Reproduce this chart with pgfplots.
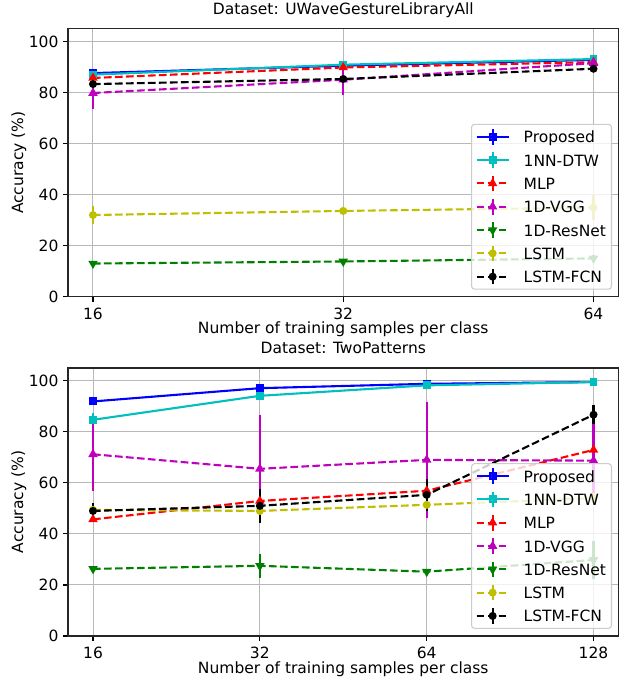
\documentclass[border=0pt]{standalone}
\usepackage{pgfplots}
\pgfplotsset{compat=1.18}
\usepackage{fontspec}
\setmainfont{DejaVu Sans}
\definecolor{mpblue}{rgb}{0,0,1}
\definecolor{mpcyan}{rgb}{0,0.75,0.75}
\definecolor{mpred}{rgb}{1,0,0}
\definecolor{mpmag}{rgb}{0.75,0,0.75}
\definecolor{mpgreen}{rgb}{0,0.5,0}
\definecolor{mpyel}{rgb}{0.75,0.75,0}
\definecolor{gridgray}{HTML}{B8B8B8}
\newcommand{\fs}{\fontsize{15.5}{17}\selectfont}
\pgfkeys{/pgf/number format/assume math mode=true}
\pgfplotsset{
  errleg/.style={legend image code/.code={
    \draw[mark repeat=2,mark phase=2] plot coordinates {(0pt,0pt) (16pt,0pt) (32pt,0pt)};
    \draw[solid,mark=none,overlay] (16pt,-7.8pt) -- (16pt,7.8pt);
  }},
  ser/.style={line width=2.1pt, mark options={solid}, mark size=2.9pt, errleg,
    error bars/y dir=both, error bars/y explicit, error bars/error mark=none,
    error bars/error bar style={line width=2.1pt, solid}},
  sq/.style={ser, mark=square*},
  tu/.style={ser, mark=triangle*, mark size=3.4pt},
  td/.style={ser, mark=triangle*, mark size=3.4pt, mark options={solid, rotate=180}},
  ci/.style={ser, mark=*, mark size=2.9pt},
  dsh/.style={dash pattern=on 7.7pt off 3.3pt},
  every axis/.append style={
    scale only axis, width=550.5pt, height=268pt,
    xmode=log, log basis x=2,
    ymin=0, ymax=105, ytick={0,20,40,60,80,100},
    grid=major, major grid style={color=gridgray, line width=1.0pt},
    axis line style={black!85, line width=1.1pt},
    tick style={black, line width=1.1pt}, tick align=outside, major tick length=4.9pt,
    xtick pos=left, ytick pos=left,
    ticklabel style={font=\fs},
    yticklabel style={anchor=east, inner sep=0pt, xshift=-4.5pt},
    xticklabel style={anchor=base, inner sep=0pt, yshift=-17.8pt},
    title style={font=\fs, at={(axis description cs:0.5,1)}, anchor=base, inner sep=0pt, yshift=8pt},
    xlabel style={font=\fs, at={(axis description cs:0.5,0)}, anchor=base, inner sep=0pt, yshift=-37pt},
    ylabel style={font=\fs, at={(axis description cs:0,0.5)}, anchor=base, inner sep=0pt, yshift=45pt},
    xlabel={Number of training samples per class},
    ylabel={Accuracy (\%)},
    legend cell align=left,
    legend style={font=\fs, at={(axis description cs:1,0)}, anchor=south east,
      xshift=-6.5pt, yshift=7pt, draw=black!20, line width=1.1pt, rounded corners=3pt,
      fill=white, fill opacity=0.8, draw opacity=1, text opacity=1,
      inner xsep=4pt, inner ysep=4pt, row sep=6.3pt, column sep=12.5pt,
      nodes={inner sep=1.5pt, text height=13pt, text depth=1pt}},
  }
}
\begin{document}
\begin{tikzpicture}[x=1pt,y=1pt]
\useasboundingbox (0,0) rectangle (619,677);
% ---------------- Top
\begin{axis}[at={(68pt,380.3pt)}, anchor=south west,
  xmin=14.93, xmax=68.59, xtick={16,32,64}, xticklabels={16,32,64},
  title={Dataset: UWaveGestureLibraryAll}]
\addplot[sq, color=mpblue] coordinates {(16,87.6) +- (0,1.2) (32,90.5) +- (0,0.8) (64,92.8) +- (0,0.5)};
\addplot[sq, color=mpcyan] coordinates {(16,87.0) +- (0,0.6) (32,90.9) +- (0,1.5) (64,93.1) +- (0,0.5)};
\addplot[tu, dsh, color=mpred] coordinates {(16,85.7) +- (0,1.0) (32,89.8) +- (0,1.0) (64,91.9) +- (0,0.8)};
\addplot[tu, dsh, color=mpmag] coordinates {(16,79.8) +- (0,6.2) (32,85.0) +- (0,6.0) (64,91.5) +- (0,1.0)};
\addplot[td, dsh, color=mpgreen] coordinates {(16,13.0) +- (0,0.5) (32,13.8) +- (0,0.7) (64,15.0) +- (0,1.5)};
\addplot[ci, dsh, color=mpyel] coordinates {(16,32.0) +- (0,3.5) (32,33.6) +- (0,0.8) (64,34.9) +- (0,5.0)};
\addplot[ci, dsh, color=black] coordinates {(16,83.3) +- (0,1.0) (32,85.3) +- (0,1.0) (64,89.3) +- (0,0.7)};
\legend{Proposed,1NN-DTW,MLP,1D-VGG,1D-ResNet,LSTM,LSTM-FCN}
\end{axis}
% ---------------- Bottom
\begin{axis}[at={(68pt,41pt)}, anchor=south west,
  xmin=14.42, xmax=142.0, xtick={16,32,64,128}, xticklabels={16,32,64,128},
  title={Dataset: TwoPatterns}]
\addplot[sq, color=mpblue] coordinates {(16,91.9) +- (0,1.5) (32,97.1) +- (0,0.5) (64,98.8) +- (0,0.5) (128,99.5) +- (0,0.3)};
\addplot[sq, color=mpcyan] coordinates {(16,84.7) +- (0,2.7) (32,94.1) +- (0,0.8) (64,98.2) +- (0,0.5) (128,99.5) +- (0,0.3)};
\addplot[tu, dsh, color=mpred] coordinates {(16,45.7) +- (0,1.0) (32,52.9) +- (0,1.5) (64,56.9) +- (0,1.5) (128,72.9) +- (0,2.0)};
\addplot[tu, dsh, color=mpmag] coordinates {(16,71.2) +- (0,14.4) (32,65.5) +- (0,21.0) (64,69.0) +- (0,22.6) (128,68.7) +- (0,16.0)};
\addplot[td, dsh, color=mpgreen] coordinates {(16,26.3) +- (0,1.0) (32,27.5) +- (0,4.7) (64,25.2) +- (0,1.0) (128,29.8) +- (0,7.5)};
\addplot[ci, dsh, color=mpyel] coordinates {(16,49.4) +- (0,0.5) (32,49.0) +- (0,1.0) (64,51.4) +- (0,1.0) (128,54.0) +- (0,2.0)};
\addplot[ci, dsh, color=black] coordinates {(16,49.0) +- (0,3.0) (32,51.0) +- (0,6.7) (64,55.3) +- (0,6.2) (128,86.7) +- (0,3.7)};
\legend{Proposed,1NN-DTW,MLP,1D-VGG,1D-ResNet,LSTM,LSTM-FCN}
\end{axis}
\end{tikzpicture}
\end{document}
